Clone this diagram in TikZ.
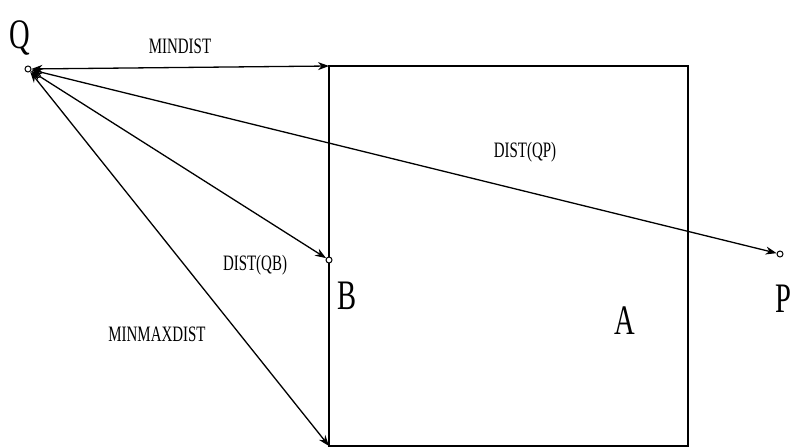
\documentclass[tikz,border=0pt]{standalone}
\usepackage{fontspec}
\setmainfont{Liberation Serif}
\newfontfamily\narrowfont[FakeStretch=0.68]{Liberation Serif}
\usetikzlibrary{arrows.meta}
\tikzset{
	pt/.style = {draw, circle, inner sep = 0pt, minimum size = 6pt, line width = 1pt, fill = white},
	dist/.style = {line width = 1.3pt, {Stealth[length=11pt,width=8pt]}-{Stealth[length=11pt,width=8pt]}},
	small/.style = {font = \narrowfont\fontsize{22}{22}\selectfont},
	big/.style = {font = \narrowfont\fontsize{42}{42}\selectfont}
}
\begin{document}
\begin{tikzpicture}[x = 1pt, y = -1pt]
	\useasboundingbox (0,0) rectangle (792,447);
	\draw [line width = 1.3pt] (329,66) -- (688,66) -- (688,446) -- (329,446) -- cycle;
	%\draw (243,160) node {-};
	\coordinate (m) at (329,66);
	\coordinate (mm) at (329,446);
	\node [pt] (q) at (28,69) {};
	\node [pt] (b) at (329,260) {};
	\node [pt] (p) at (780,254) {};
	\draw [dist] (q) -- (m);
	\draw [dist] (q) -- (b);
	\draw [dist] (q) -- (p);
	\draw [dist] (q) -- (mm);
	\node [big] (lq) at (20,38) {Q};
	\node [big] (lb) at (347,296) {B};
	\node [big] (la) at (625,321) {A};
	\node [big] (lp) at (783,299) {P};
	\node [small] (lmin) at (180,46) {MINDIST};
	\node [small] (lqp) at (525,152) {DIST(QP)};
	\node [small] (lqb) at (255,265) {DIST(QB)};
	\node [small] (lmm) at (157,334) {MINMAXDIST};
\end{tikzpicture}
\end{document}
